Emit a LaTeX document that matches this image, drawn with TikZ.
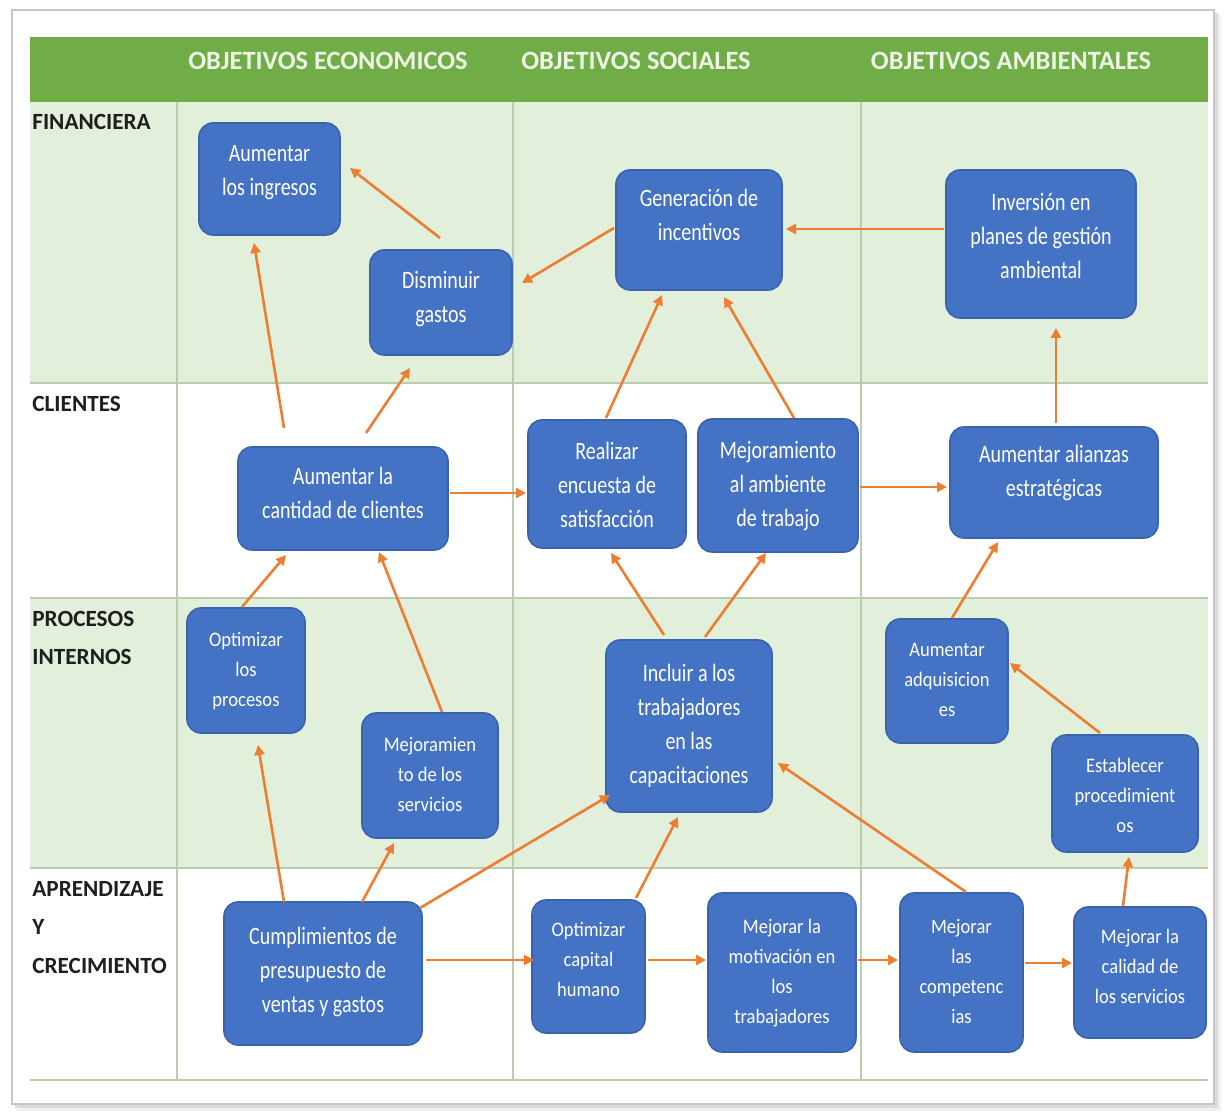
\documentclass[tikz,border=0pt]{standalone}
\usepackage{fontspec}
\setmainfont{Carlito}
\newfontfamily\bigfam{Carlito}[FakeStretch=0.8]
\newfontfamily\smallfam{Carlito}[FakeStretch=0.9]
\usetikzlibrary{arrows.meta}
\definecolor{hdrgreen}{HTML}{70AD47}
\definecolor{rowgreen}{HTML}{E2EFDA}
\definecolor{boxblue}{HTML}{4472C4}
\definecolor{boxedge}{HTML}{3A63AE}
\definecolor{arrorange}{HTML}{ED7D31}
\definecolor{gridc}{HTML}{BBCDAE}
\definecolor{hdrtext}{HTML}{EEF6E8}
\definecolor{labtext}{HTML}{1E1E1E}
\newcommand\tx[2]{\raisebox{#1}[\height][\depth]{\begin{tabular}{@{}c@{}}#2\end{tabular}}}
\begin{document}
\begin{tikzpicture}[x=0.5pt,y=-0.5pt,
  box/.style={draw=boxedge, line width=0.8pt, fill=boxblue, rounded corners=7pt, text=white, inner sep=0pt, font=\bigfam\fontsize{12.5}{17}\selectfont},
  sbox/.style={box, font=\smallfam\fontsize{10.3}{15}\selectfont},
  sz/.style 2 args={minimum width={#1*0.5pt}, minimum height={#2*0.5pt}},
  link/.style={draw=arrorange, line width=1.3pt, -{Triangle[length=5pt,width=5pt]}},
  hdr/.style={font=\bfseries\fontsize{13.2}{16}\selectfont, text=hdrtext, inner sep=0pt, anchor=base},
  rowlab/.style={font=\bfseries\fontsize{11.6}{14}\selectfont, text=labtext, inner sep=0pt, anchor=base west},
  gridline/.style={draw=gridc, line width=0.6pt}]
\useasboundingbox (0,0) rectangle (1228,1112);
% page frame with shadow
\fill[black!6] (17,15) rectangle (1221,1111);
\fill[black!14] (15,13) rectangle (1218,1108);
\filldraw[draw=black!22, line width=0.6pt, fill=white] (12,10) rectangle (1214,1104);
% bands
\fill[rowgreen] (30,102) rectangle (1208,383);
\fill[rowgreen] (30,598) rectangle (1208,868);
\fill[hdrgreen] (30,37) rectangle (1208,102);
% grid
\foreach \yy in {383,598,868,1080} \draw[gridline] (30,\yy) -- (1208,\yy);
\foreach \xx in {177,513,861} \draw[gridline] (\xx,102) -- (\xx,1080);
% headers
\node[hdr] (h1) at (328,70) {OBJETIVOS ECONOMICOS};
\node[hdr] (h2) at (636,70) {OBJETIVOS SOCIALES};
\node[hdr] (h3) at (1011,70) {OBJETIVOS AMBIENTALES};
% row labels
\node[rowlab] (r1) at (32,130) {FINANCIERA};
\node[rowlab] (r2) at (32,412) {CLIENTES};
\node[rowlab] (r3a) at (32,627) {PROCESOS};
\node[rowlab] (r3b) at (32,665) {INTERNOS};
\node[rowlab] (r4a) at (32,897) {APRENDIZAJE};
\node[rowlab] (r4b) at (32,935) {Y};
\node[rowlab] (r4c) at (32,973) {CRECIMIENTO};
% boxes
\node[box, sz={141}{112}] (ing) at (269.5,179) {\tx{3.5pt}{Aumentar\\los ingresos}};
\node[box, sz={142}{105}] (dis) at (441,302.5) {\tx{2pt}{Disminuir\\gastos}};
\node[box, sz={166}{120}] (gen) at (699,230) {\tx{6.5pt}{Generación de\\incentivos}};
\node[box, sz={190}{148}] (inv) at (1041,244) {\tx{3pt}{Inversión en\\planes de gestión\\ambiental}};
\node[box, sz={210}{103}] (cli) at (343,498.5) {\tx{2pt}{Aumentar la\\cantidad de clientes}};
\node[box, sz={158}{128}] (enc) at (607,484) {\tx{-1.5pt}{Realizar\\encuesta de\\satisfacción}};
\node[box, sz={160}{133}] (amb) at (778,485.5) {\tx{0pt}{Mejoramiento\\al ambiente\\de trabajo}};
\node[box, sz={208}{111}] (ali) at (1054,482.5) {\tx{5pt}{Aumentar alianzas\\estratégicas}};
\node[sbox, sz={118}{125}] (opt) at (246,670.5) {\tx{0pt}{Optimizar\\los\\procesos}};
\node[sbox, sz={136}{125}] (ser) at (430,775.5) {\tx{0pt}{Mejoramien\\to de los\\servicios}};
\node[box, sz={166}{172}] (inc) at (689,726) {\tx{0pt}{Incluir a los\\trabajadores\\en las\\capacitaciones}};
\node[sbox, sz={122}{124}] (adq) at (947,681) {\tx{0pt}{Aumentar\\adquisicion\\es}};
\node[sbox, sz={146}{117}] (est) at (1125,793.5) {\tx{-1.5pt}{Establecer\\procedimient\\os}};
\node[box, sz={198}{143}] (cum) at (323,973.5) {\tx{1pt}{Cumplimientos de\\presupuesto de\\ventas y gastos}};
\node[sbox, sz={113}{133}] (cap) at (588.5,966.5) {\tx{3pt}{Optimizar\\capital\\humano}};
\node[sbox, sz={148}{159}] (mot) at (782,972.5) {\tx{0pt}{Mejorar la\\motivación en\\los\\trabajadores}};
\node[sbox, sz={123}{159}] (com) at (961.5,972.5) {\tx{0pt}{Mejorar\\las\\competenc\\ias}};
\node[sbox, sz={132}{131}] (cal) at (1140,972.5) {\tx{2.5pt}{Mejorar la\\calidad de\\los servicios}};
% connectors
\draw[link] ([shift={(-1,-64.5)}]dis.center) -- ([shift={(80.5,-11)}]ing.center);
\draw[link] ([shift={(-85,-2)}]gen.center) -- ([shift={(81,-19.5)}]dis.center);
\draw[link] ([shift={(-97,-15)}]inv.center) -- ([shift={(87,-1)}]gen.center);
\draw[link] ([shift={(-59,-70.5)}]cli.center) -- ([shift={(-15.5,64)}]ing.center);
\draw[link] ([shift={(23,-65.5)}]cli.center) -- ([shift={(-31,65.5)}]dis.center);
\draw[link] ([shift={(107,-5.5)}]cli.center) -- ([shift={(-81,9)}]enc.center);
\draw[link] ([shift={(-1,-66)}]enc.center) -- ([shift={(-37,65)}]gen.center);
\draw[link] ([shift={(16,-67.5)}]amb.center) -- ([shift={(25,67)}]gen.center);
\draw[link] ([shift={(82,1.5)}]amb.center) -- ([shift={(-107,4.5)}]ali.center);
\draw[link] ([shift={(2,-59.5)}]ali.center) -- ([shift={(15,84)}]inv.center);
\draw[link] ([shift={(-4,-63.5)}]opt.center) -- ([shift={(-57,56.5)}]cli.center);
\draw[link] ([shift={(12,-63.5)}]ser.center) -- ([shift={(36,53.5)}]cli.center);
\draw[link] ([shift={(-25,-91)}]inc.center) -- ([shift={(4,69)}]enc.center);
\draw[link] ([shift={(16,-89)}]inc.center) -- ([shift={(-12,67.5)}]amb.center);
\draw[link] ([shift={(5,-63)}]adq.center) -- ([shift={(-56,59.5)}]ali.center);
\draw[link] ([shift={(-25,-60.5)}]est.center) -- ([shift={(63,-18)}]adq.center);
\draw[link] ([shift={(-39,-71.5)}]cum.center) -- ([shift={(12,74.5)}]opt.center);
\draw[link] ([shift={(39,-71.5)}]cum.center) -- ([shift={(-36,67.5)}]ser.center);
\draw[link] ([shift={(97,-65.5)}]cum.center) -- ([shift={(-79,69)}]inc.center);
\draw[link] ([shift={(103,-13.5)}]cum.center) -- ([shift={(-54.5,-6.5)}]cap.center);
\draw[link] ([shift={(47.5,-68.5)}]cap.center) -- ([shift={(-11,91)}]inc.center);
\draw[link] ([shift={(4.5,-80.5)}]com.center) -- ([shift={(89,37)}]inc.center);
\draw[link] ([shift={(59.5,-6.5)}]cap.center) -- ([shift={(-76,-12.5)}]mot.center);
\draw[link] ([shift={(76,-12.5)}]mot.center) -- ([shift={(-63.5,-12.5)}]com.center);
\draw[link] ([shift={(63.5,-9.5)}]com.center) -- ([shift={(-68,-9.5)}]cal.center);
\draw[link] ([shift={(-17,-66.5)}]cal.center) -- ([shift={(4,63.5)}]est.center);
\end{tikzpicture}
\end{document}
